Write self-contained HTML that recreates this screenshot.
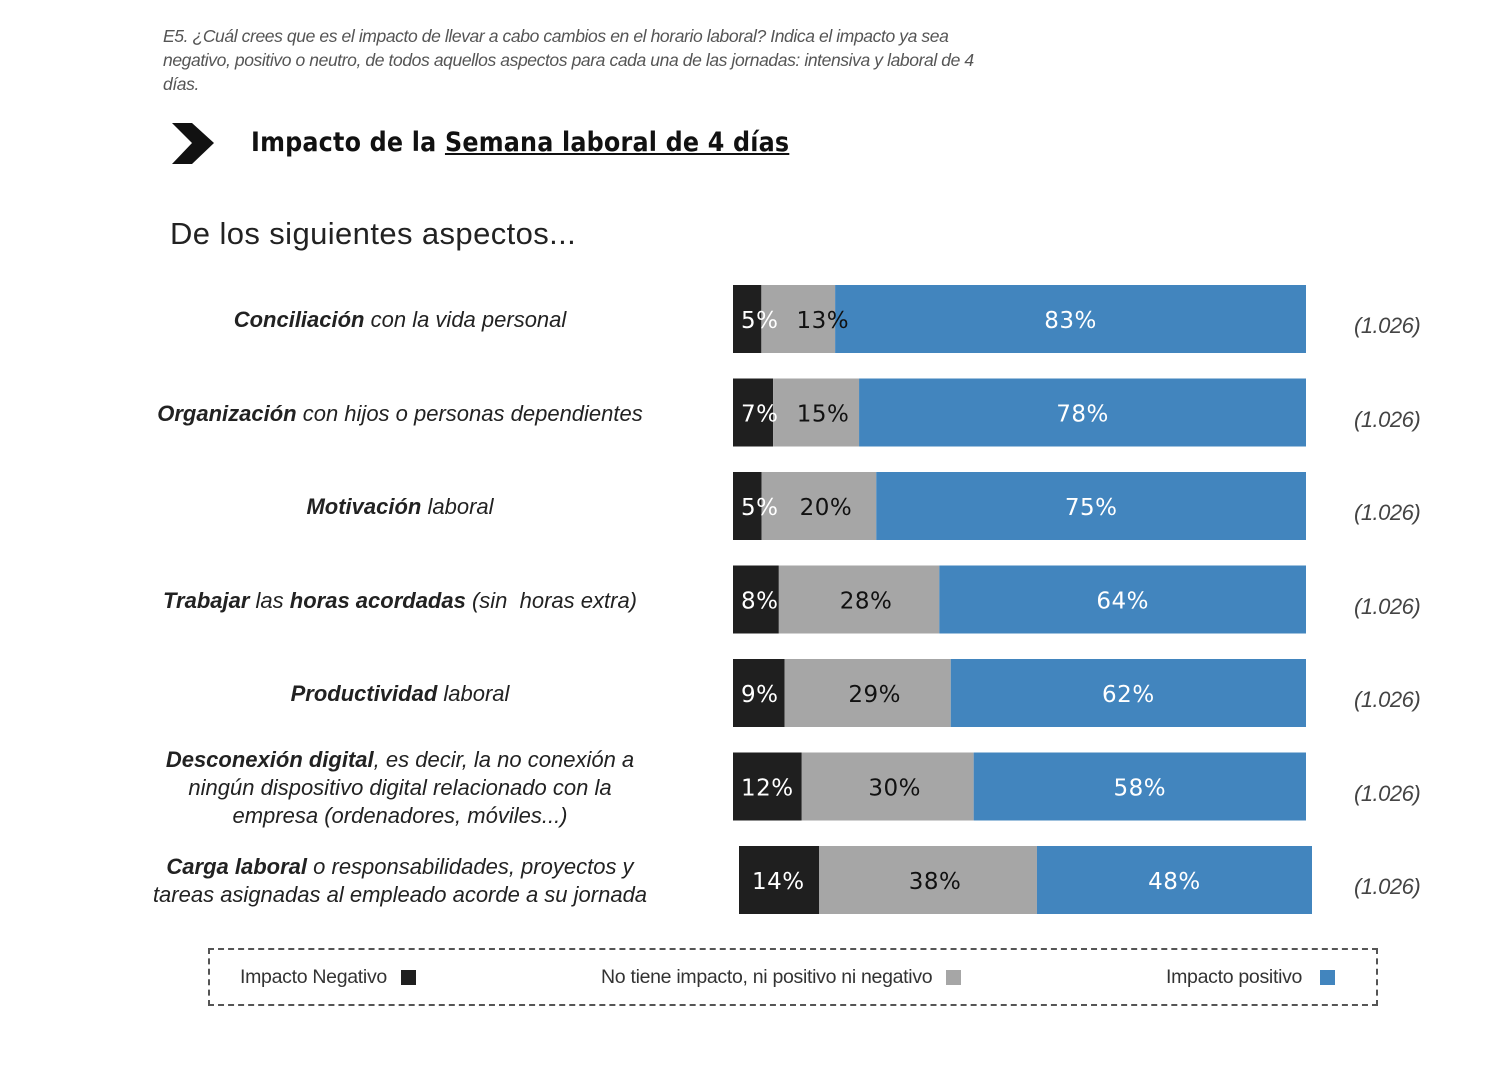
<!DOCTYPE html>
<html><head><meta charset="utf-8"><style>
body{margin:0;background:#fff;width:1500px;height:1069px;overflow:hidden;font-family:"Liberation Sans",sans-serif;position:relative}
.abs{position:absolute}
.q{left:163px;top:24px;width:1000px;font-size:17.5px;font-style:italic;color:#555;line-height:24px;letter-spacing:-0.4px}
.title{left:251px;top:127px;font-size:26.5px;font-weight:bold;color:#111;font-family:"DejaVu Sans Condensed","DejaVu Sans",sans-serif;letter-spacing:0.2px}
.sub{left:170px;top:216px;font-size:31px;color:#222;letter-spacing:0.4px}
.lab{position:absolute;width:520px;text-align:center;font-size:22px;font-style:italic;color:#222;line-height:28px;letter-spacing:0px}
.lab b{font-weight:bold}
.n{position:absolute;left:1354px;font-size:22px;font-style:italic;color:#444;letter-spacing:-0.5px}
.legend{left:208px;top:948px;width:1166px;height:54px;border:2px dashed #555}
.lg{position:absolute;top:16px;font-size:19.5px;color:#333;letter-spacing:-0.3px}
.sw{display:inline-block;width:15px;height:15px;vertical-align:-2px;margin-left:14px}
</style></head><body>
<div class="abs q">E5. ¿Cuál crees que es el impacto de llevar a cabo cambios en el horario laboral? Indica el impacto ya sea<br>negativo, positivo o neutro, de todos aquellos aspectos para cada una de las jornadas: intensiva y laboral de 4<br>días.</div>
<svg class="abs" style="left:172px;top:123px" width="44" height="42"><polygon points="0,0 20,0 42,20 20,41 0,41 20,20" fill="#111"/></svg>
<div class="abs title">Impacto de la <u>Semana laboral de 4 días</u></div>
<div class="abs sub">De los siguientes aspectos...</div>
<svg id="chart" class="abs" style="left:0;top:0" width="1500" height="1069"></svg>
<div id="labels"></div>
<div class="abs legend">
<div class="lg" style="left:30px">Impacto Negativo<span class="sw" style="background:#1f1f1f"></span></div>
<div class="lg" style="left:391px">No tiene impacto, ni positivo ni negativo<span class="sw" style="background:#a6a6a6"></span></div>
<div class="lg" style="left:956px">Impacto positivo<span class="sw" style="background:#4285be;margin-left:18px"></span></div>
</div>
<script>
const categories=["<b>Conciliación</b> con la vida personal","<b>Organización</b> con hijos o personas dependientes","<b>Motivación</b> laboral","<b>Trabajar</b> las <b>horas acordadas</b> (sin&nbsp; horas extra)","<b>Productividad</b> laboral","<b>Desconexión digital</b>, es decir, la no conexión a<br>ningún dispositivo digital relacionado con la<br>empresa (ordenadores, móviles...)","<b>Carga laboral</b> o responsabilidades, proyectos y<br>tareas asignadas al empleado acorde a su jornada"];
const negativeVals=[5,7,5,8,9,12,14];
const neutralVals=[13,15,20,28,29,30,38];
const positiveVals=[83,78,75,64,62,58,48];
const sampleSizes=["(1.026)","(1.026)","(1.026)","(1.026)","(1.026)","(1.026)","(1.026)"];
const svg=document.getElementById('chart'),NS="http://www.w3.org/2000/svg";
const x0=733,W=573,rowY0=319,rowStep=93.5,bh=68;
const xs=v=>v/100*W;
const yc=i=>rowY0+i*rowStep;
function mk(t,a){const e=document.createElementNS(NS,t);for(const k in a)e.setAttribute(k,a[k]);svg.appendChild(e);return e;}
const cols=["#1f1f1f","#a6a6a6","#4285be"];
const labs=document.getElementById('labels');
categories.forEach((c,i)=>{
  const vals=[negativeVals[i],neutralVals[i],positiveVals[i]];
  const tot=vals[0]+vals[1]+vals[2];
  const bx=x0+(i==categories.length-1?6:0);
  let x=bx;const y=yc(i)-bh/2;
  const segs=[];
  vals.forEach((v,j)=>{const w=xs(v/tot*100);
    const r=mk('rect',{x:x,y:y,width:w,height:bh,fill:cols[j]});
    
    
    segs.push([x,w]);x+=w;});
  const fs=23;
  const t0=mk('text',{x:bx+8+(vals[0]>=14?5:0),y:yc(i)+9,'font-size':fs,fill:'#fff','font-family':'DejaVu Sans, sans-serif','letter-spacing':'0.5'});
  t0.textContent=vals[0]+'%';
  
  
  const w0=t0.getBBox().width;
  const t1=mk('text',{y:yc(i)+9,'font-size':fs,fill:'#111','font-family':'DejaVu Sans, sans-serif','letter-spacing':'0.5'});
  t1.textContent=vals[1]+'%';
  
  
  const w1=t1.getBBox().width;
  t1.setAttribute('x',Math.max(segs[1][0]+segs[1][1]/2-w1/2+7,bx+8+w0+18));
  const t2=mk('text',{x:segs[2][0]+segs[2][1]/2,y:yc(i)+9,'font-size':fs,fill:'#fff','text-anchor':'middle','font-family':'DejaVu Sans, sans-serif','letter-spacing':'0.5'});
  t2.textContent=vals[2]+'%';
  
  
  const l=document.createElement('div');l.className='lab';
  
  
  l.innerHTML=c;labs.appendChild(l);
  const lines=(c.match(/<br>/g)||[]).length+1;
  l.style.left='140px';l.style.top=(yc(i)-lines*14+1)+'px';
  const n=document.createElement('div');n.className='n';
  
  
  n.textContent=sampleSizes[i];n.style.top=(yc(i)-6)+'px';labs.appendChild(n);
});
</script>
</body></html>
